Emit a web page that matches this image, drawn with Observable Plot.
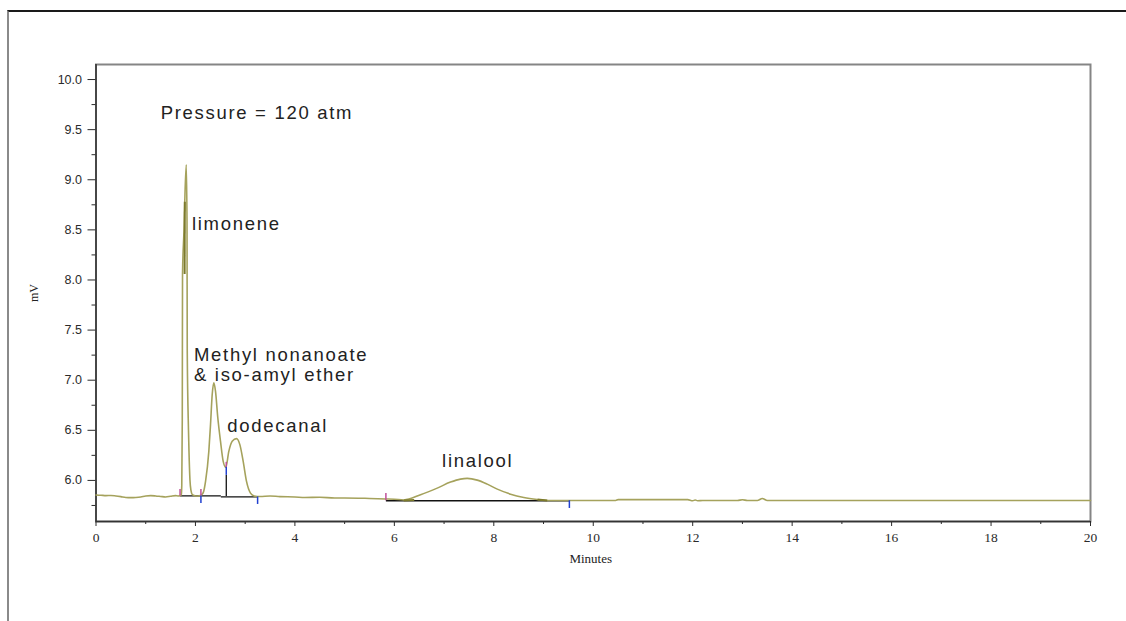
<!DOCTYPE html>
<html><head><meta charset="utf-8">
<script src="https://cdn.jsdelivr.net/npm/d3@7"></script>
<script src="https://cdn.jsdelivr.net/npm/@observablehq/plot@0.6"></script>
<style>
body{margin:0;background:#fff;}
#wrap{position:relative;width:1126px;height:621px;overflow:hidden;background:#fff;}
#border{position:absolute;left:7px;top:10px;width:1200px;height:700px;border-top:2px solid #1a1a1a;border-left:2px solid #8a8a8a;pointer-events:none;}
</style></head><body><div id="wrap"><div id="chart"></div><div id="border"></div></div>
<script>
// chromatogram trace (minutes, mV)
const traceMinutes = [0.0,0.1,0.2,0.3,0.4,0.5,0.6,0.7,0.8,0.9,1.0,1.1,1.2,1.3,1.4,1.5,1.6,1.65,1.7,1.715,1.725,1.735,1.74,1.77,1.785,1.815,1.83,1.835,1.86,1.87,1.89,1.91,1.935,1.97,2.0,2.05,2.1,2.13,2.165,2.203,2.269,2.303,2.337,2.37,2.403,2.45,2.504,2.558,2.611,2.671,2.739,2.826,2.893,2.96,3.027,3.107,3.18,3.242,3.3,3.5,3.7,4.0,4.2,4.5,4.8,5.0,5.5,5.83,6.0,6.19,6.527,6.862,7.13,7.33,7.466,7.667,7.868,8.07,8.337,8.604,8.874,9.075,9.5,10.0,10.45,10.5,11.0,11.9,12.0,12.05,12.1,12.2,12.9,13.0,13.1,13.3,13.4,13.5,14.0,16.0,18.0,20.0];
const traceMV = [5.855,5.852,5.848,5.85,5.845,5.838,5.83,5.828,5.83,5.835,5.845,5.848,5.845,5.84,5.835,5.842,5.848,5.845,5.85,5.86,5.95,6.6,8.06,8.5,8.78,9.15,8.6,7.3,6.5,6.29,6.0,5.9,5.86,5.85,5.845,5.845,5.85,5.86,5.89,5.99,6.29,6.557,6.857,6.973,6.89,6.623,6.39,6.19,6.13,6.29,6.39,6.417,6.357,6.19,5.99,5.873,5.845,5.84,5.84,5.845,5.838,5.835,5.83,5.832,5.825,5.825,5.82,5.815,5.812,5.805,5.857,5.923,5.983,6.013,6.02,6.003,5.963,5.913,5.863,5.83,5.81,5.80,5.80,5.80,5.80,5.808,5.808,5.808,5.797,5.805,5.797,5.80,5.80,5.807,5.80,5.80,5.82,5.80,5.80,5.80,5.80,5.80];

// peak annotations
const labelText = ["Pressure = 120 atm","limonene","Methyl nonanoate","& iso-amyl ether","dodecanal","linalool"];
const labelMinute = [1.30,1.93,1.97,1.97,2.64,6.96];
const labelMV = [9.61,8.50,7.19,6.99,6.48,6.13];

// integration baselines
const baseStart = [1.69,2.51,5.83];
const baseEnd = [2.51,3.25,9.52];
const baseMV = [5.845,5.835,5.797];

// peak start markers (pink) and peak end markers (blue)
const startMinute = [1.69,2.11,2.62,5.83];
const startLow = [5.845,5.845,6.13,5.797];
const startHigh = [5.91,5.91,6.18,5.87];
const endMinute = [2.11,2.62,3.25,9.52];
const endHigh = [5.845,6.13,5.835,5.797];
const endLow = [5.77,6.05,5.76,5.72];

// drop line between peaks
const dropMinute = [2.62];
const dropLow = [5.84];
const dropHigh = [6.05];

// darker trace segments
const darkX1 = [1.782,6.19,8.88];
const darkX2 = [1.786,6.4,9.075];
const darkY1 = [8.06,5.80,5.81];
const darkY2 = [8.78,5.805,5.80];

const yMajor = [6.0,6.5,7.0,7.5,8.0,8.5,9.0,9.5,10.0];
const yMinor = [5.75,6.25,6.75,7.25,7.75,8.25,8.75,9.25,9.75];
const xMajor = [0,2,4,6,8,10,12,14,16,18,20];
const xMinor = [1,3,5,7,9,11,13,15,17,19];

const trace = traceMinutes.map((m,i)=>({m, v: traceMV[i]}));
const labels = labelText.map((t,i)=>({t, m: labelMinute[i], v: labelMV[i]}));
const bases = baseStart.map((s,i)=>({s, e: baseEnd[i], v: baseMV[i]}));
const starts = startMinute.map((m,i)=>({m, lo: startLow[i], hi: startHigh[i]}));
const ends = endMinute.map((m,i)=>({m, lo: endLow[i], hi: endHigh[i]}));
const drops = dropMinute.map((m,i)=>({m, lo: dropLow[i], hi: dropHigh[i]}));
const darks = darkX1.map((x1,i)=>({x1, x2: darkX2[i], y1: darkY1[i], y2: darkY2[i]}));

const sans = "Liberation Sans, Arial, sans-serif";
const serif = "Liberation Serif, Times New Roman, serif";

const chart = Plot.plot({
  width: 1126, height: 621,
  marginLeft: 95.5, marginRight: 36, marginTop: 64, marginBottom: 100,
  style: {background: "transparent", color: "#2a2a2a"},
  x: {domain: [0, 20]},
  y: {domain: [5.59, 10.15]},
  marks: [
    Plot.frame({stroke: "#858585", strokeWidth: 2}),
    Plot.axisY({ticks: yMajor, tickSize: 8, tickPadding: 6, tickFormat: d3.format(".1f"), fontSize: 12.5, fontFamily: sans, label: null}),
    Plot.axisY({ticks: yMinor, tickSize: 4, tickFormat: () => "", label: null}),
    Plot.axisX({ticks: xMajor, tickSize: 5, tickPadding: 6, fontSize: 13.5, fontFamily: serif, label: null}),
    Plot.axisX({ticks: xMinor, tickSize: 3, tickFormat: () => "", label: null}),
    Plot.ruleX([0], {stroke: "#333", strokeWidth: 1.5}),
    Plot.ruleY([5.59], {stroke: "#333", strokeWidth: 1.5}),
    Plot.link(bases, {x1: "s", x2: "e", y1: "v", y2: "v", stroke: "#111", strokeWidth: 1.3}),
    Plot.ruleX(drops, {x: "m", y1: "lo", y2: "hi", stroke: "#111", strokeWidth: 1.3}),
    Plot.line(trace, {x: "m", y: "v", stroke: "#a5a25c", strokeWidth: 1.6, curve: "monotone-x"}),
    Plot.link(darks, {x1: "x1", x2: "x2", y1: "y1", y2: "y2", stroke: "#7c7a2c", strokeWidth: 2}),
    Plot.ruleX(starts, {x: "m", y1: "lo", y2: "hi", stroke: "#c0509a", strokeWidth: 1.5}),
    Plot.ruleX(ends, {x: "m", y1: "lo", y2: "hi", stroke: "#2040d0", strokeWidth: 1.5}),
    Plot.text(labels, {x: "m", y: "v", text: "t", textAnchor: "start", lineAnchor: "bottom", fontSize: 18.5, fontFamily: sans, fill: "#222"}),
    Plot.text(["Minutes"], {x: 9.95, y: 5.59, text: d => d, dy: 37, textAnchor: "middle", lineAnchor: "middle", fontSize: 13, fontFamily: serif, fill: "#222"}),
    Plot.text(["mV"], {x: 0, y: 7.87, text: d => d, dx: -62, rotate: -90, textAnchor: "middle", lineAnchor: "middle", fontSize: 12, fontFamily: serif, fill: "#222"})
  ]
});
d3.select(chart).selectAll("text").filter(function() { return labelText.includes(this.textContent); }).style("letter-spacing", "1.7px");
document.getElementById("chart").appendChild(chart);
</script>
</body></html>
